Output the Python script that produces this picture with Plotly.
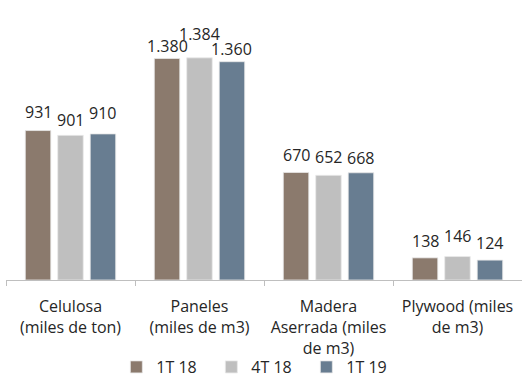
import plotly.graph_objects as go

categories = ["Celulosa<br>(miles de ton)", "Paneles<br>(miles de m3)",
              "Madera<br>Aserrada (miles<br>de m3)", "Plywood (miles<br>de m3)"]
series_names = ["1T 18", "4T 18", "1T 19"]
values_1t18 = [931, 1380, 670, 138]
values_4t18 = [901, 1384, 652, 146]
values_1t19 = [910, 1360, 668, 124]
colors = ["#8B7A6D", "#BFBFBF", "#687D91"]

# pixel lift of each value label's centre above its bar top (per series)
label_lift = [[19, 12, 17, 17], [15, 24, 18, 21], [21, 13, 15, 17]]

W, H = 522, 377
M = dict(l=6, r=0, t=10, b=97)
BARGAP, GROUPGAP = 0.245, 0.215


def fmt(v):
    # thousands separator as a dot
    return f"{v:,}".replace(",", ".")


fig = go.Figure()
all_series = [values_1t18, values_4t18, values_1t19]
for name, vals, col in zip(series_names, all_series, colors):
    fig.add_trace(go.Bar(
        name=name, x=categories, y=vals,
        marker=dict(color=col, line=dict(color="#E8E8E8", width=0.8)),
    ))

# value labels above each bar, shifted sideways onto its slot in the group
cat_px = (W - M["l"] - M["r"]) / len(categories)
slot_px = cat_px * (1 - BARGAP) / len(all_series)
for i, (vals, lifts) in enumerate(zip(all_series, label_lift)):
    dx = (i - (len(all_series) - 1) / 2) * slot_px
    for c, v, lift in zip(categories, vals, lifts):
        fig.add_annotation(x=c, y=v, xref="x", yref="y", text=fmt(v),
                           showarrow=False, yanchor="middle", xshift=dx, yshift=lift,
                           font=dict(size=16, color="#262626"))

fig.update_layout(
    width=W, height=H, margin=M,
    paper_bgcolor="white", plot_bgcolor="white",
    font=dict(family="Open Sans", size=16, color="#262626"),
    barmode="group", bargap=BARGAP, bargroupgap=GROUPGAP,
    xaxis=dict(showline=True, linecolor="#BFBFBF", linewidth=1,
               ticks="outside", ticklen=5, tickcolor="#BFBFBF",
               tickson="boundaries", tickfont=dict(size=16), showgrid=False,
               ticklabelstandoff=12, automargin=False),
    yaxis=dict(range=[0, 1682], visible=False),
    legend=dict(orientation="h", x=0.49, xanchor="center",
                yref="container", y=(H - 367) / H, yanchor="middle",
                bgcolor="rgba(0,0,0,0)",
                font=dict(size=16), entrywidth=50, itemwidth=30),
)
fig.write_html("out.html")
